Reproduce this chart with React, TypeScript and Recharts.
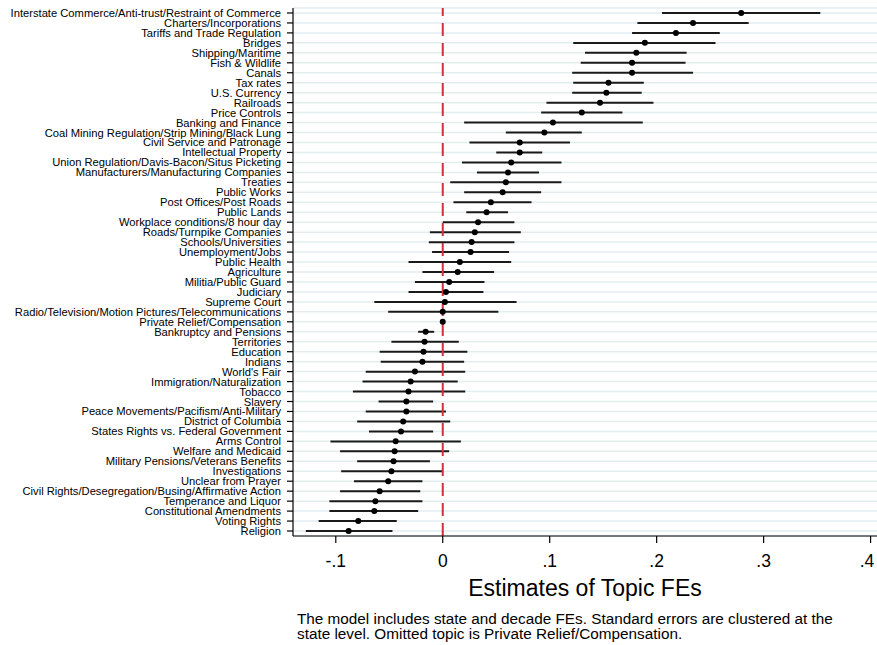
import {
  ComposedChart,
  Bar,
  Line,
  XAxis,
  YAxis,
  CartesianGrid,
  ReferenceLine,
} from "recharts";

const topics = [
  "Interstate Commerce/Anti-trust/Restraint of Commerce",
  "Charters/Incorporations",
  "Tariffs and Trade Regulation",
  "Bridges",
  "Shipping/Maritime",
  "Fish & Wildlife",
  "Canals",
  "Tax rates",
  "U.S. Currency",
  "Railroads",
  "Price Controls",
  "Banking and Finance",
  "Coal Mining Regulation/Strip Mining/Black Lung",
  "Civil Service and Patronage",
  "Intellectual Property",
  "Union Regulation/Davis-Bacon/Situs Picketing",
  "Manufacturers/Manufacturing Companies",
  "Treaties",
  "Public Works",
  "Post Offices/Post Roads",
  "Public Lands",
  "Workplace conditions/8 hour day",
  "Roads/Turnpike Companies",
  "Schools/Universities",
  "Unemployment/Jobs",
  "Public Health",
  "Agriculture",
  "Militia/Public Guard",
  "Judiciary",
  "Supreme Court",
  "Radio/Television/Motion Pictures/Telecommunications",
  "Private Relief/Compensation",
  "Bankruptcy and Pensions",
  "Territories",
  "Education",
  "Indians",
  "World's Fair",
  "Immigration/Naturalization",
  "Tobacco",
  "Slavery",
  "Peace Movements/Pacifism/Anti-Military",
  "District of Columbia",
  "States Rights vs. Federal Government",
  "Arms Control",
  "Welfare and Medicaid",
  "Military Pensions/Veterans Benefits",
  "Investigations",
  "Unclear from Prayer",
  "Civil Rights/Desegregation/Busing/Affirmative Action",
  "Temperance and Liquor",
  "Constitutional Amendments",
  "Voting Rights",
  "Religion",
];

const estimates = [
  0.279, 0.234, 0.218, 0.189, 0.181, 0.177, 0.177, 0.155, 0.153, 0.147,
  0.13, 0.103, 0.095, 0.072, 0.072, 0.064, 0.061, 0.059, 0.056, 0.045,
  0.041, 0.033, 0.03, 0.027, 0.026, 0.016, 0.014, 0.006, 0.003, 0.002,
  0.0, 0.0, -0.016, -0.017, -0.018, -0.019, -0.026, -0.03, -0.032, -0.034,
  -0.034, -0.037, -0.039, -0.044, -0.045, -0.046, -0.048, -0.051, -0.059,
  -0.063, -0.064, -0.079, -0.088,
];

const lower = [
  0.205, 0.182, 0.177, 0.122, 0.133, 0.129, 0.121, 0.122, 0.121, 0.097,
  0.092, 0.02, 0.059, 0.025, 0.05, 0.018, 0.032, 0.007, 0.02, 0.01,
  0.022, 0.0, -0.012, -0.013, -0.01, -0.032, -0.019, -0.026, -0.032, -0.064,
  -0.051, 0.0, -0.023, -0.048, -0.059, -0.058, -0.072, -0.075, -0.084, -0.06,
  -0.072, -0.08, -0.069, -0.105, -0.096, -0.08, -0.095, -0.083, -0.096,
  -0.106, -0.106, -0.116, -0.128,
];

const upper = [
  0.353, 0.286, 0.259, 0.255, 0.228, 0.227, 0.234, 0.188, 0.186, 0.197,
  0.168, 0.187, 0.13, 0.119, 0.093, 0.111, 0.09, 0.111, 0.092, 0.083,
  0.061, 0.067, 0.073, 0.067, 0.062, 0.064, 0.048, 0.039, 0.038, 0.069,
  0.052, 0.0, -0.008, 0.015, 0.023, 0.02, 0.021, 0.014, 0.021, -0.009,
  0.003, 0.007, -0.009, 0.017, 0.006, -0.012, 0.0, -0.019, -0.021,
  -0.019, -0.023, -0.043, -0.047,
];

const xTicks = [-0.1, 0, 0.1, 0.2, 0.3, 0.4];

const data = topics.map((topic, i) => ({
  topic,
  est: estimates[i],
  range: [lower[i], upper[i]],
}));

const fmtTick = (v: number) => {
  if (v === 0) return "0";
  const s = String(Math.abs(v)).replace(/^0/, "");
  return v < 0 ? "-" + s : s;
};

const font = "'Liberation Sans', Arial, sans-serif";

// single-line category label (recharts would wrap long ones)
const TopicTick = (props: any) => {
  const { x, y, payload } = props;
  return (
    <text
      x={x}
      y={y}
      dx={-4}
      dy={4}
      textAnchor="end"
      fontSize={11.2}
      fill="#000"
      fontFamily={font}
    >
      {payload.value}
    </text>
  );
};

const ValueTick = (props: any) => {
  const { x, y, payload } = props;
  return (
    <text
      x={x}
      y={y}
      dy={22}
      textAnchor="middle"
      fontSize={17.5}
      fill="#000"
      fontFamily={font}
    >
      {fmtTick(payload.value)}
    </text>
  );
};

export default function App() {
  return (
    <div
      style={{
        position: "absolute",
        left: 0,
        top: 0,
        width: 877,
        height: 645,
        background: "#fff",
        fontFamily: font,
      }}
    >
      <ComposedChart
        layout="vertical"
        width={877}
        height={645}
        data={data}
        margin={{ top: 8, right: 0, bottom: 79, left: 0 }}
        style={{ fontFamily: font }}
      >
        <CartesianGrid
          horizontal={true}
          vertical={false}
          stroke="#e3edf0"
          strokeWidth={1.5}
        />
        <XAxis
          type="number"
          domain={[-0.14, 0.406]}
          ticks={xTicks}
          allowDataOverflow
          height={30}
          tickSize={7}
          tick={<ValueTick />}
          stroke="#000"
          strokeWidth={1.2}
        />
        <YAxis
          type="category"
          dataKey="topic"
          width={293}
          interval={0}
          tickSize={6}
          tick={<TopicTick />}
          stroke="#000"
          strokeWidth={1.2}
        />
        <Bar
          dataKey="range"
          barSize={2}
          fill="#1a1a1a"
          isAnimationActive={false}
        />
        <Line
          dataKey="est"
          stroke="none"
          dot={{ r: 3, fill: "#000", stroke: "none" }}
          activeDot={false}
          isAnimationActive={false}
        />
        <ReferenceLine
          x={0}
          stroke="#d0303a"
          strokeWidth={2}
          strokeDasharray="13 7"
        />
      </ComposedChart>
      <div
        style={{
          position: "absolute",
          left: 293,
          width: 584,
          top: 575,
          textAlign: "center",
          fontSize: 23,
          color: "#000",
        }}
      >
        Estimates of Topic FEs
      </div>
      <div
        style={{
          position: "absolute",
          left: 297,
          top: 611,
          fontSize: 15.3,
          lineHeight: "15px",
          whiteSpace: "nowrap",
          color: "#000",
        }}
      >
        The model includes state and decade FEs. Standard errors are clustered
        at the
        <br />
        state level. Omitted topic is Private Relief/Compensation.
      </div>
    </div>
  );
}
